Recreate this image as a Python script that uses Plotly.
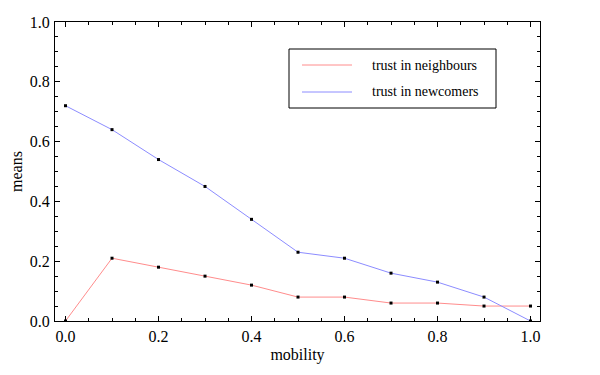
import plotly.graph_objects as go

mobility = [0.0, 0.1, 0.2, 0.3, 0.4, 0.5, 0.6, 0.7, 0.8, 0.9, 1.0]
trust_neighbours = [0.0, 0.21, 0.18, 0.15, 0.12, 0.08, 0.08, 0.06, 0.06, 0.05, 0.05]
trust_newcomers = [0.72, 0.64, 0.54, 0.45, 0.34, 0.23, 0.21, 0.16, 0.13, 0.08, 0.0]
series_names = ["trust in neighbours", "trust in newcomers"]
series_colors = ["#ff8c8c", "#8c8cff"]

FONT = "Liberation Serif, Times New Roman, serif"

fig = go.Figure()
for vals, name, col in zip([trust_neighbours, trust_newcomers], series_names, series_colors):
    fig.add_trace(go.Scatter(
        x=mobility, y=vals, name=name, mode="lines",
        line=dict(color=col, width=1), showlegend=False))
for vals in [trust_neighbours, trust_newcomers]:
    fig.add_trace(go.Scatter(
        x=mobility, y=vals, mode="markers",
        marker=dict(color="black", size=3, symbol="square"),
        showlegend=False, hoverinfo="skip"))

axis_common = dict(
    showline=True, linecolor="black", linewidth=1, mirror="allticks",
    ticks="inside", ticklen=5, tickwidth=1, tickcolor="black",
    showgrid=False, zeroline=False, tickformat=".1f", automargin=False,
    tickfont=dict(family=FONT, size=16, color="black"),
    minor=dict(ticks="inside", ticklen=3, tickwidth=1, tickcolor="black", dtick=0.05, showgrid=False),
    dtick=0.2, tick0=0,
)

fig.update_xaxes(range=[-0.0226, 1.0204], title=dict(text="mobility", font=dict(family=FONT, size=16, color="black"), standoff=4), ticklabelstandoff=1, **axis_common)
fig.update_yaxes(range=[0, 1], title=dict(text="means", font=dict(family=FONT, size=16, color="black"), standoff=6), ticklabelstandoff=1, **axis_common)

# page body adds an 8px offset; compensate so the plot frame lands where the reference has it
OFF = 8
FW, FH = 600 - OFF, 375 - OFF
L, R, T, B = 55, 540, 22, 321   # absolute page pixels of the frame
W, H = R - L, B - T
def px(x): return (x - L) / W
def py(y): return (B - y) / H

fig.add_shape(type="rect", xref="paper", yref="paper",
              x0=px(289), x1=px(496), y0=py(108), y1=py(49),
              line=dict(color="black", width=1), fillcolor="white", layer="above")
for name, col, yy in zip(series_names, series_colors, [65, 92]):
    fig.add_shape(type="line", xref="paper", yref="paper",
                  x0=px(302), x1=px(352), y0=py(yy), y1=py(yy),
                  line=dict(color=col, width=1), layer="above")
    fig.add_annotation(xref="paper", yref="paper", x=px(370), y=py(yy),
                       text=name, showarrow=False, xanchor="left", yanchor="middle",
                       font=dict(family=FONT, size=14, color="black"))

fig.update_layout(
    width=FW, height=FH,
    margin=dict(l=L - OFF, r=600 - R, t=T - OFF, b=375 - B),
    paper_bgcolor="white", plot_bgcolor="white",
    font=dict(family=FONT, color="black"),
)

fig.write_html("out.html")
